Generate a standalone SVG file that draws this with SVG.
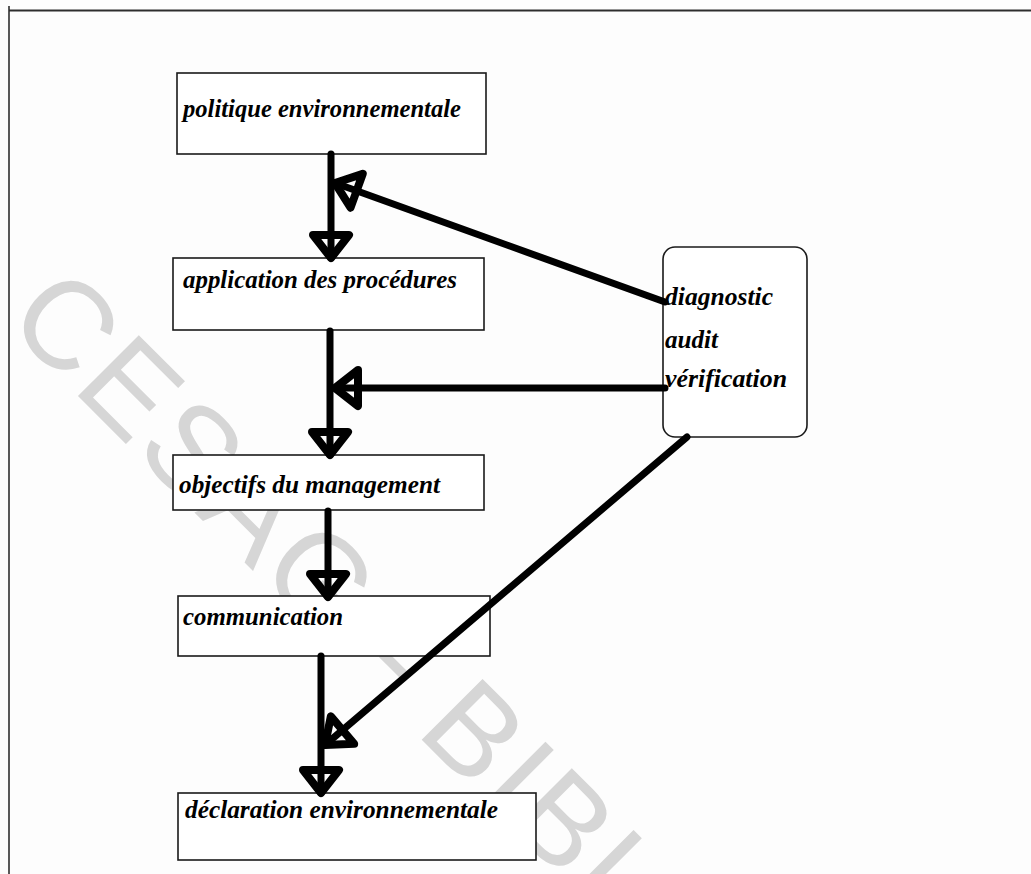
<svg xmlns="http://www.w3.org/2000/svg" width="1031" height="874" viewBox="0 0 1031 874">
  <style>
    .box { fill: #ffffff; stroke: #1a1a1a; stroke-width: 1.6; }
    .lbl { font-family: "Liberation Serif", "Times New Roman", serif; font-style: italic; font-weight: bold; font-size: 25px; fill: #000000; }
    .link { fill: none; stroke: #000000; stroke-width: 7; stroke-linecap: round; marker-end: url(#head); }
    .mark { font-family: "Liberation Sans", Arial, sans-serif; font-size: 125px; fill: #d6d6d6; }
  </style>
  <defs>
    <marker id="head" markerUnits="userSpaceOnUse" markerWidth="60" markerHeight="60" viewBox="-40 -30 50 60" refX="0" refY="0" orient="auto" overflow="visible">
      <path d="M0,0 L-23,-18 L-23,18 Z" fill="none" stroke="#000000" stroke-width="8" stroke-linejoin="round"/>
    </marker>
  </defs>

  <rect x="0" y="0" width="1031" height="874" fill="#fdfdfd"/>

  <!-- page frame -->
  <g id="frame" stroke="#2e2e2e" fill="none">
    <line x1="9" y1="10.5" x2="1031" y2="10.5" stroke-width="2"/>
    <line x1="9" y1="6" x2="9" y2="874" stroke-width="1.6"/>
  </g>

  <!-- library stamp running diagonally across the page -->
  <g id="stamp">
    <text class="mark" transform="translate(4,322) rotate(45)" letter-spacing="4">CESAG - BIBLIOTHEQUE</text>
  </g>

  <!-- process steps -->
  <g id="politique">
    <rect class="box" x="177" y="73" width="309" height="81"/>
    <text class="lbl" x="183" y="117" textLength="278" lengthAdjust="spacingAndGlyphs">politique environnementale</text>
  </g>
  <g id="application">
    <rect class="box" x="173" y="258" width="311" height="72"/>
    <text class="lbl" x="183" y="288" textLength="274" lengthAdjust="spacingAndGlyphs">application des procédures</text>
  </g>
  <g id="objectifs">
    <rect class="box" x="173" y="455" width="311" height="55"/>
    <text class="lbl" x="179" y="493" textLength="261" lengthAdjust="spacingAndGlyphs">objectifs du management</text>
  </g>
  <g id="communication">
    <rect class="box" x="178" y="596" width="312" height="60"/>
    <text class="lbl" x="183" y="625" textLength="160" lengthAdjust="spacingAndGlyphs">communication</text>
  </g>
  <g id="declaration">
    <rect class="box" x="178" y="793" width="358" height="67"/>
    <text class="lbl" x="185" y="818" textLength="313" lengthAdjust="spacingAndGlyphs">déclaration environnementale</text>
  </g>
  <g id="controle">
    <rect class="box" x="663" y="247" width="144" height="190" rx="12" ry="12"/>
    <text class="lbl" x="665" y="305" textLength="108" lengthAdjust="spacingAndGlyphs">diagnostic</text>
    <text class="lbl" x="665" y="348" textLength="53" lengthAdjust="spacingAndGlyphs">audit</text>
    <text class="lbl" x="665" y="387" textLength="122" lengthAdjust="spacingAndGlyphs">vérification</text>
  </g>

  <!-- connectors -->
  <g id="connectors">
    <path class="link" d="M331,154 L331,258"/>
    <path class="link" d="M330,331 L330,455"/>
    <path class="link" d="M328,511 L328,597"/>
    <path class="link" d="M321,656 L321,793"/>
    <path class="link" d="M665,302 L335,183"/>
    <path class="link" d="M665,388 L335,388"/>
    <path class="link" d="M687,437 L325,745"/>
  </g>
</svg>
